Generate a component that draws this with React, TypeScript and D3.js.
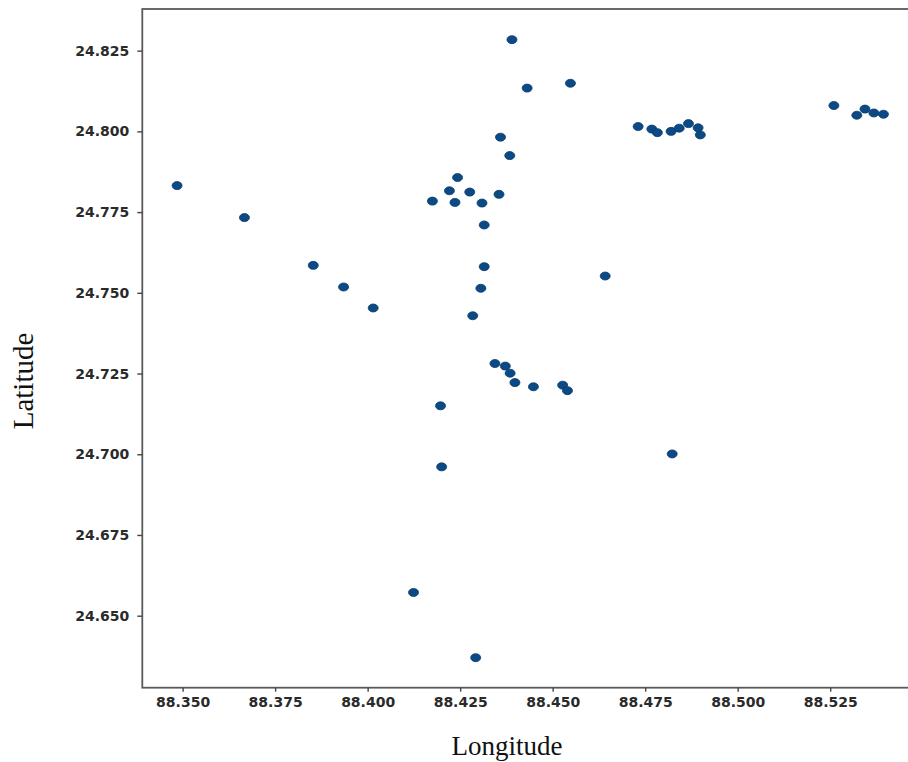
import { useEffect, useRef } from 'react';
import * as d3 from 'd3';

// station coordinates
const longitudes = [
  88.3485, 88.3667, 88.3853, 88.3935, 88.4015, 88.4175, 88.4221, 88.4243, 88.4236, 88.4276,
  88.4309, 88.4355, 88.4315, 88.4315, 88.4306, 88.4284, 88.4359, 88.4384, 88.439, 88.4431,
  88.4548, 88.4642, 88.4344, 88.4372, 88.4385, 88.4398, 88.4448, 88.4527, 88.454, 88.4197,
  88.42, 88.4823, 88.4124, 88.4292, 88.4731, 88.4768, 88.4783, 88.482, 88.4842, 88.4867,
  88.4893, 88.4899, 88.526, 88.5322, 88.5344, 88.5368, 88.5394,
];

const latitudes = [
  24.7832, 24.7733, 24.7585, 24.7518, 24.7453, 24.7784, 24.7816, 24.7857, 24.778, 24.7812,
  24.7778, 24.7805, 24.771, 24.7581, 24.7514, 24.7429, 24.7982, 24.7925, 24.8284, 24.8134,
  24.8149, 24.7552, 24.7281, 24.7273, 24.7251, 24.7222, 24.7209, 24.7214, 24.7197, 24.715,
  24.6961, 24.7001, 24.6572, 24.637, 24.8015, 24.8007, 24.7996, 24.8, 24.801, 24.8024,
  24.8011, 24.7989, 24.808, 24.805, 24.8069, 24.8057, 24.8053,
];

const xTicks = [88.35, 88.375, 88.4, 88.425, 88.45, 88.475, 88.5, 88.525];
const yTicks = [24.65, 24.675, 24.7, 24.725, 24.75, 24.775, 24.8, 24.825];

const xDomain = [88.3391, 88.5463];
const yDomain = [24.6277, 24.8379];

export default function App() {
  const svgRef = useRef<SVGSVGElement>(null);
  const width = 908;
  const height = 762;

  useEffect(() => {
    if (!svgRef.current) return;
    const svg = d3.select(svgRef.current);
    svg.selectAll('*').remove();

    const left = 142.3;
    const right = 909;
    const top = 9;
    const bottom = 687.7;

    const x = d3.scaleLinear().domain(xDomain).range([left, right]);
    const y = d3.scaleLinear().domain(yDomain).range([bottom, top]);

    svg.append('rect').attr('width', width).attr('height', height).attr('fill', '#fff');

    // frame
    svg
      .append('rect')
      .attr('x', left)
      .attr('y', top)
      .attr('width', right - left)
      .attr('height', bottom - top)
      .attr('fill', 'none')
      .attr('stroke', '#5a5a5a')
      .attr('stroke-width', 1.8);

    const tickFont = 'DejaVu Sans, sans-serif';

    // x axis
    const gx = svg
      .append('g')
      .attr('transform', `translate(0,${bottom})`)
      .call(
        d3
          .axisBottom(x)
          .tickValues(xTicks)
          .tickFormat(d3.format('.3f'))
          .tickSize(4)
          .tickPadding(5)
      );
    gx.select('.domain').remove();
    gx.selectAll('line').attr('stroke', '#444').attr('stroke-width', 1.4);
    gx.selectAll('text')
      .attr('fill', '#2a2a2a')
      .style('font-family', tickFont)
      .style('font-size', '14px')
      .style('font-weight', 'bold');

    // y axis
    const gy = svg
      .append('g')
      .attr('transform', `translate(${left},0)`)
      .call(
        d3
          .axisLeft(y)
          .tickValues(yTicks)
          .tickFormat(d3.format('.3f'))
          .tickSize(5)
          .tickPadding(8)
      );
    gy.select('.domain').remove();
    gy.selectAll('line').attr('stroke', '#444').attr('stroke-width', 1.4);
    gy.selectAll('text')
      .attr('fill', '#2a2a2a')
      .style('font-family', tickFont)
      .style('font-size', '14px')
      .style('font-weight', 'bold');

    // points
    svg
      .append('g')
      .selectAll('ellipse')
      .data(longitudes.map((lon, i) => [lon, latitudes[i]]))
      .join('ellipse')
      .attr('cx', (d) => x(d[0]))
      .attr('cy', (d) => y(d[1]))
      .attr('rx', 5)
      .attr('ry', 4)
      .attr('fill', '#0b4a84')
      .attr('stroke', '#083c6c')
      .attr('stroke-width', 0.8);

    // axis labels
    svg
      .append('text')
      .attr('x', 507)
      .attr('y', 755)
      .attr('text-anchor', 'middle')
      .style('font-family', 'Liberation Serif, Times New Roman, serif')
      .style('font-size', '27px')
      .attr('fill', '#111')
      .text('Longitude');

    svg
      .append('text')
      .attr('transform', 'translate(33,381) rotate(-90)')
      .attr('text-anchor', 'middle')
      .style('font-family', 'Liberation Serif, Times New Roman, serif')
      .style('font-size', '29px')
      .attr('fill', '#111')
      .text('Latitude');
  }, []);

  return (
    <svg
      ref={svgRef}
      width={width}
      height={height}
      style={{ position: 'absolute', left: 0, top: 0 }}
    ></svg>
  );
}
